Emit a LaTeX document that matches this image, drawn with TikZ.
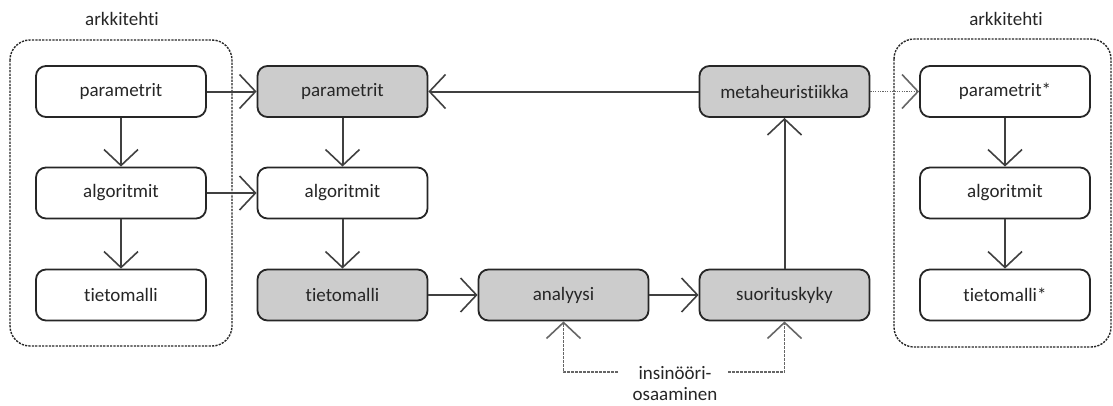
\documentclass[tikz,border=0pt]{standalone}
\usepackage{fontspec}
\setmainfont{Carlito}[Ligatures=NoCommon]
\usetikzlibrary{arrows.meta}
\definecolor{ink}{HTML}{262626}
\definecolor{wire}{HTML}{404040}
\definecolor{shade}{HTML}{CCCCCC}
\begin{document}
\begin{tikzpicture}[x=1pt,y=-1pt,
  font=\fontsize{19}{23}\selectfont, text=ink,
  box/.style={draw=ink, line width=1.8pt, rounded corners=10pt, fill=white,
    minimum width=170pt, minimum height=51pt, inner sep=0pt},
  grey/.style={box, fill=shade},
  group/.style={draw=ink, line width=1.4pt, dash pattern=on 2.2pt off 1.2pt, rounded corners=20pt},
  barb/.tip={Straight Barb[length=16pt, width=34pt, line width=1.6pt]},
  link/.style={draw=wire, line width=2pt, -barb},
  soft/.style={draw=wire!80, line width=1.6pt, dash pattern=on 3pt off 1pt, -barb},
  dotlink/.style={draw=wire!80, line width=1.6pt, dash pattern=on 1.2pt off 1.2pt, -barb}]
  \useasboundingbox (0,0) rectangle (1113,405);

  % architect groups
  \draw[group] (10,40) rectangle (232,346);
  \draw[group] (894,39) rectangle (1111,347);
  \node (archL) at (122,19) {arkkitehti};
  \node (archR) at (1006,19) {arkkitehti};

  % left column
  \node[box] (p1) at (121,91.5) {parametrit};
  \node[box] (a1) at (121,193) {algoritmit};
  \node[box] (t1) at (121,295) {tietomalli};

  % middle column
  \node[grey] (p2) at (342.5,91.5) {parametrit};
  \node[box]  (a2) at (342.5,193) {algoritmit};
  \node[grey] (t2) at (342.5,295) {tietomalli};

  \node[grey] (an) at (563.5,295) {analyysi};
  \node[grey] (su) at (784.5,295) {suorituskyky};
  \node[grey] (me) at (784.5,91.5) {metaheuristiikka};

  % right column
  \node[box] (p3) at (1005,91.5) {parametrit*};
  \node[box] (a3) at (1005,193) {algoritmit};
  \node[box] (t3) at (1005,295) {tietomalli*};

  % engineering knowledge
  \node[align=center, inner sep=0pt] (eng) at (675,384) {insinööri-\\[-2pt]osaaminen};
  \coordinate (engL) at (618,372);
  \coordinate (engR) at (728,372);

  % connectors
  \draw[link] (p1) -- (a1);
  \draw[link] (a1) -- (t1);
  \draw[link] (p1) -- (p2);
  \draw[link] (a1) -- (a2);
  \draw[link] (p2) -- (a2);
  \draw[link] (a2) -- (t2);
  \draw[link] (t2) -- (an);
  \draw[link] (an) -- (su);
  \draw[link] (su) -- (me);
  \draw[link] (me) -- (p2);
  \draw[dotlink] (me) -- (p3);
  \draw[link] (p3) -- (a3);
  \draw[link] (a3) -- (t3);
  \draw[soft] (engL) -| (an.south);
  \draw[soft] (engR) -| (su.south);
\end{tikzpicture}
\end{document}
